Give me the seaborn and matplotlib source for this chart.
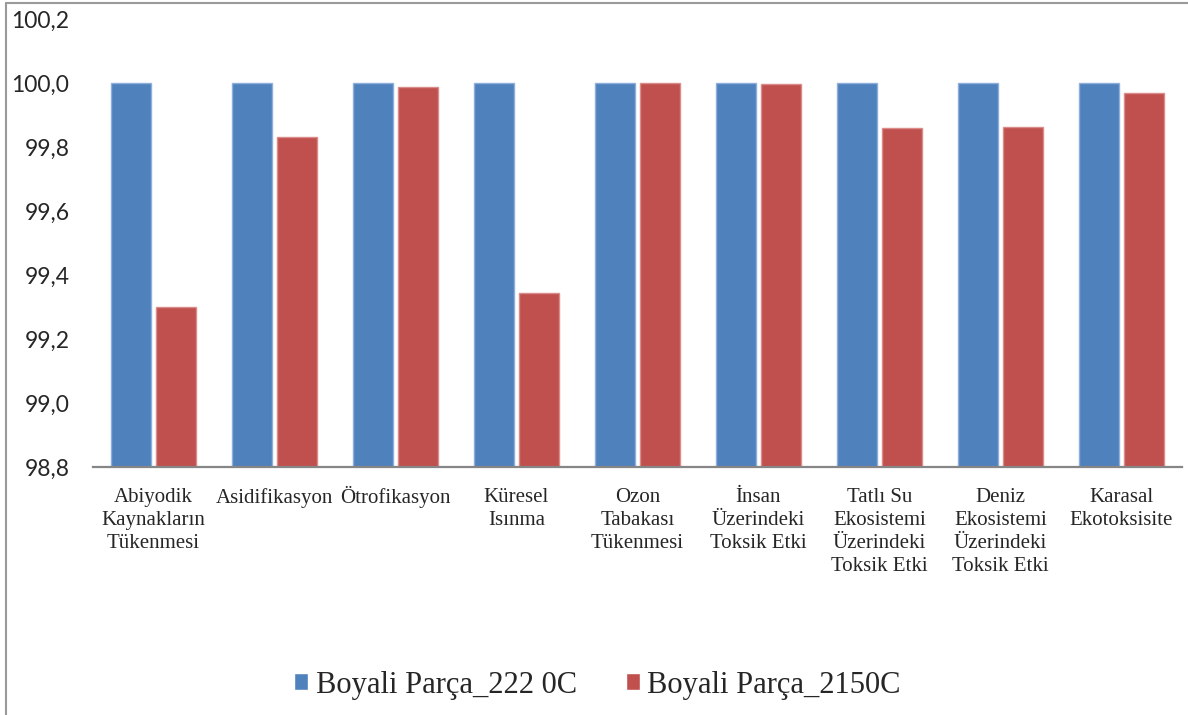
import seaborn as sns
import pandas as pd
import matplotlib.pyplot as plt
from matplotlib.lines import Line2D
from matplotlib.ticker import FuncFormatter

categories = [
    "Abiyodik\nKaynakların\nTükenmesi",
    "Asidifikasyon",
    "Ötrofikasyon",
    "Küresel\nIsınma",
    "Ozon\nTabakası\nTükenmesi",
    "İnsan\nÜzerindeki\nToksik Etki",
    "Tatlı Su\nEkosistemi\nÜzerindeki\nToksik Etki",
    "Deniz\nEkosistemi\nÜzerindeki\nToksik Etki",
    "Karasal\nEkotoksisite",
]
series_names = ["Boyali Parça_222 0C", "Boyali Parça_2150C"]
vals_222 = [100.0, 100.0, 100.0, 100.0, 100.0, 100.0, 100.0, 100.0, 100.0]
vals_2150 = [99.30, 99.83, 99.986, 99.343, 100.0, 99.996, 99.858, 99.861, 99.968]
colors = ["#4F81BD", "#C0504D"]
edge_colors = ["#8EAEDB", "#D98C8A"]

df = pd.DataFrame({
    "kategori": categories * 2,
    "seri": [series_names[0]] * len(categories) + [series_names[1]] * len(categories),
    "deger": vals_222 + vals_2150,
})

sns.set_style("white")
plt.rcParams["font.family"] = ["Liberation Serif", "DejaVu Serif"]

fig = plt.figure(figsize=(11.88, 7.15), dpi=100)
ax = fig.add_axes([93 / 1188, 1 - 467 / 715, 1089 / 1188, (467 - 19) / 715])

sns.barplot(data=df, x="kategori", y="deger", hue="seri", order=categories,
            hue_order=series_names, palette=colors, saturation=1, width=0.75,
            gap=0.12, linewidth=0, legend=False, ax=ax)

# light edges like the original
n = len(categories)
for i, p in enumerate(ax.patches[:2 * n]):
    p.set_edgecolor(edge_colors[i // n])
    p.set_linewidth(1.0)

ax.set_ylim(98.8, 100.2)
ax.set_yticks([98.8, 99.0, 99.2, 99.4, 99.6, 99.8, 100.0, 100.2])
ax.yaxis.set_major_formatter(FuncFormatter(lambda v, _: f"{v:.1f}".replace(".", ",")))
ax.set_xticks(range(n), categories, fontsize=15, linespacing=1.3)
ax.set_xlabel("")
ax.set_ylabel("")

for lab in ax.get_yticklabels():
    lab.set_fontfamily("Lato")
    lab.set_fontsize(16.5)
ax.tick_params(axis="y", length=0, pad=17)
ax.tick_params(axis="x", length=0, pad=15)

# the dotted Ö pushes its label down; lift it back onto the common baseline
ax.xaxis.get_major_ticks()[2].label1.set_y(0.005)

for s in ["left", "top", "right"]:
    ax.spines[s].set_visible(False)
ax.spines["bottom"].set_color("#868686")
ax.spines["bottom"].set_linewidth(1.6)

handles = [plt.Rectangle((0, 0), 1, 1, facecolor=c) for c in colors]
fig.legend(handles, series_names, loc="center", bbox_to_anchor=(0.503, 1 - 685 / 715),
           ncol=2, frameon=False, fontsize=22, handlelength=0.45, handleheight=0.45,
           handletextpad=0.25, columnspacing=1.6)

# outer chart frame
x0 = 6 / 1188
y1 = 1 - 3 / 715
fig.add_artist(Line2D([x0, x0], [0, y1], color="#9A9A9A", linewidth=1.5))
fig.add_artist(Line2D([x0, 1], [y1, y1], color="#9A9A9A", linewidth=1.5))

fig.savefig("out.png", dpi=100)
